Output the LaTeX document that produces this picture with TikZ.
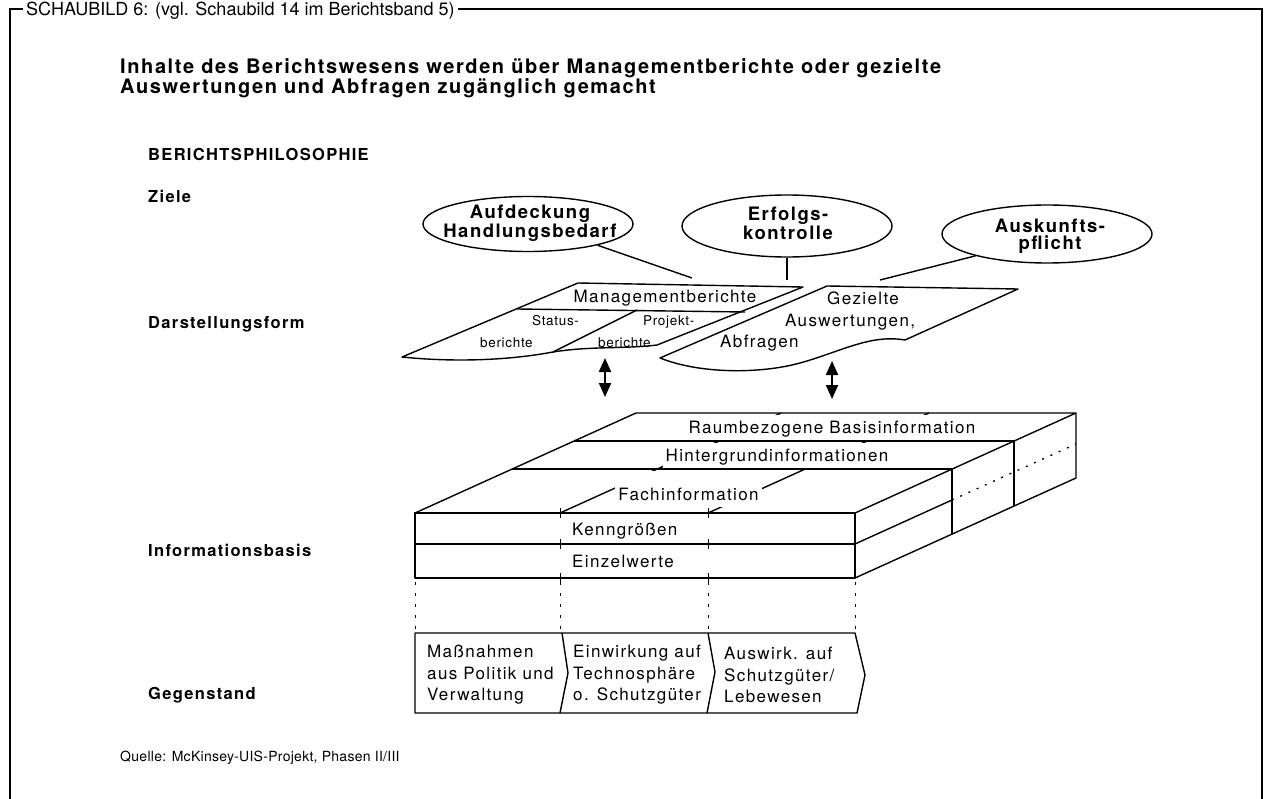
\documentclass[tikz,border=0pt]{standalone}
\usepackage{fontspec}
\setmainfont{TeX Gyre Heros}
\newfontfamily\hvA{TeX Gyre Heros}[LetterSpace=8]
\newfontfamily\hvB{TeX Gyre Heros}[LetterSpace=5]
\newfontfamily\hvC{TeX Gyre Heros}[LetterSpace=8]
\newfontfamily\hvE{TeX Gyre Heros}[LetterSpace=2]
\usetikzlibrary{arrows.meta,shapes.geometric}

\tikzset{
  outline/.style={line width=1.4pt, line join=round},
  tick/.style={line width=0.9pt},
  dotline/.style={line width=0.9pt, dash pattern=on 3pt off 8pt},
  sideline/.style={line width=1.3pt, dash pattern=on 2pt off 7pt},
  hdr/.style={font={\fontsize{18}{22}\selectfont}, inner sep=0pt},
  ttl/.style={font={\hvC\bfseries\fontsize{20}{17}\selectfont}, inner sep=0pt, align=left},
  lbl/.style={font={\hvA\bfseries\fontsize{16.5}{19}\selectfont}, inner sep=0pt, anchor=west, text height=12pt, text depth=0pt},
  goal/.style={ellipse, draw, outline, minimum width=210pt, inner sep=0pt},
  goaltext/.style={font={\hvA\bfseries\fontsize{18.5}{17.5}\selectfont}, align=center, inner sep=0pt},
  txt/.style={font={\hvA\fontsize{17}{21.5}\selectfont}, inner sep=0pt},
  small/.style={font={\hvB\fontsize{13.5}{22}\selectfont}, inner sep=0pt, align=left},
  rowlabel/.style={txt, fill=white, inner xsep=3pt, inner ysep=0pt, anchor=base},
  twohead/.style={line width=2pt, {Triangle[length=14pt,width=12pt]}-{Triangle[length=14pt,width=12pt]}},
  src/.style={font={\hvE\fontsize{14}{16}\selectfont}, inner sep=0pt, anchor=west},
}

\begin{document}
\begin{tikzpicture}[x=1pt,y=-1pt]
\useasboundingbox (0,0) rectangle (1268,799);

% frame with caption in the top rule
\draw[line width=1.2pt] (10,805) -- (10,9) -- (1262,9) -- (1262,805);
\node[hdr, fill=white, inner xsep=3pt, anchor=base west] (hdr) at (23,16)
  {SCHAUBILD 6: (vgl. Schaubild 14 im Berichtsband 5)};

% heading
\node[ttl, anchor=west] (ttl) at (120,78)
  {Inhalte des Berichtswesens werden über Managementberichte oder gezielte\\Auswertungen und Abfragen zugänglich gemacht};

% row captions
\node[lbl] (phil)  at (148,155) {BERICHTSPHILOSOPHIE};
\node[lbl] (ziele) at (148,197) {Ziele};
\node[lbl] (form)  at (148,322) {Darstellungsform};
\node[lbl] (basis) at (148,550) {Informationsbasis};
\node[lbl] (gegen) at (148,693) {Gegenstand};

% goals
\node[goal, minimum height=55pt] (e1) at (528,224) {};
\node[goaltext] (e1t) at (530,223.5) {Aufdeckung\\Handlungsbedarf};
\node[goal, minimum height=62pt] (e2) at (787,226) {};
\node[goaltext] (e2t) at (788,223.5) {Erfolgs-\\kontrolle};
\node[goal, minimum height=58pt] (e3) at (1047,234) {};
\node[goaltext] (e3t) at (1050,236.5) {Auskunfts-\\pflicht};

\coordinate (c1) at (692,278);
\coordinate (c2) at (787,280);
\coordinate (c3) at (880,280);
\draw[outline] (e1.-17) -- (c1);
\draw[outline] (e2.south) -- (c2);
\draw[outline] (e3.-163) -- (c3);

% management reports document
\draw[outline] (578,283) -- (803,287) -- (657,345)
  .. controls (625,349) and (590,346) .. (553,352)
  .. controls (505,361) and (450,362) .. (402,357) -- cycle;
\draw[outline] (517,309) -- (745,312);
\draw[outline] (637,310) -- (553,352);
\node[txt] (mb) at (665,298) {Managementberichte};
\node[small, anchor=west] (sb) at (480,332) {\hspace*{52pt}Status-\\berichte};
\node[small, anchor=west] (pb) at (598,332) {\hspace*{45pt}Projekt-\\berichte};

% targeted analyses document
\draw[outline] (827,286) -- (1018,289) -- (905,340)
  .. controls (870,334) and (840,352) .. (800,363)
  .. controls (760,374) and (700,374) .. (660,358) -- cycle;
\node[txt, align=left, anchor=west] (ga) at (720,322)
  {\hspace*{107pt}Gezielte\\\hspace*{65pt}Auswertungen,\\Abfragen};

% two-way access arrows
\coordinate (a1) at (605,358);
\coordinate (a2) at (605,397);
\draw[twohead] (a1) -- (a2);
\coordinate (b1) at (832,361);
\coordinate (b2) at (832,399);
\draw[twohead] (b1) -- (b2);

% information base: top face
\draw[outline] (415,513) -- (636,413) -- (1076,413) -- (855,513) -- cycle;
\draw[outline] (512,469) -- (952,469);
\draw[outline] (574,441) -- (1014,441);
\draw[outline] (560,513) -- (781,413);
\draw[outline] (708,513) -- (929,413);
\node[rowlabel, text height=18.5pt, text depth=6.5pt] (r1) at (832,433) {Raumbezogene Basisinformation};
\node[rowlabel, text height=18.5pt, text depth=6.5pt] (r2) at (777,461) {Hintergrundinformationen};
\node[rowlabel, text height=29.5pt, text depth=7pt] (r3) at (688.5,500) {Fachinformation};

% front face
\draw[outline] (415,513) rectangle (855,578);
\draw[outline] (415,544) -- (855,544);
\node[txt, anchor=west, text height=12.5pt, text depth=0pt] (kg) at (572,529) {Kenngrößen};
\node[txt, anchor=west, text height=12.5pt, text depth=0pt] (ew) at (572,561) {Einzelwerte};

% right face
\draw[outline] (855,578) -- (1076,478) -- (1076,413);
\draw[outline] (952,469) -- (952,534);
\draw[outline] (1014,441) -- (1014,506);
\draw[outline] (855,544) -- (952,500);
\draw[sideline] (952,500) -- (1076,444);

% column marks and guides down to the subject row
\foreach \x in {560,708} {
  \foreach \y in {513,544,578} {
    \draw[tick] (\x,\y-5) -- (\x,\y+5);
  }
}
\foreach \x in {415,560,708,855} {
  \draw[dotline] (\x,582) -- (\x,633);
}

% subject chevrons
\draw[outline] (415,633) -- (855,633) -- (865,675) -- (857,713) -- (415,713) -- cycle;
\draw[outline] (562,633) -- (568,673) -- (560,713);
\draw[outline] (708,633) -- (715,672) -- (707,713);
\node[txt, align=left, anchor=west] (g1) at (427,675) {Maßnahmen\\aus Politik und\\Verwaltung};
\node[txt, align=left, anchor=west] (g2) at (573,675) {Einwirkung auf\\Technosphäre\\o. Schutzgüter};
\node[txt, align=left, anchor=west] (g3) at (724,675) {Auswirk. auf\\Schutzgüter/\\Lebewesen};

% source
\node[src] (src) at (120,758) {Quelle: McKinsey-UIS-Projekt, Phasen II/III};
\end{tikzpicture}
\end{document}
